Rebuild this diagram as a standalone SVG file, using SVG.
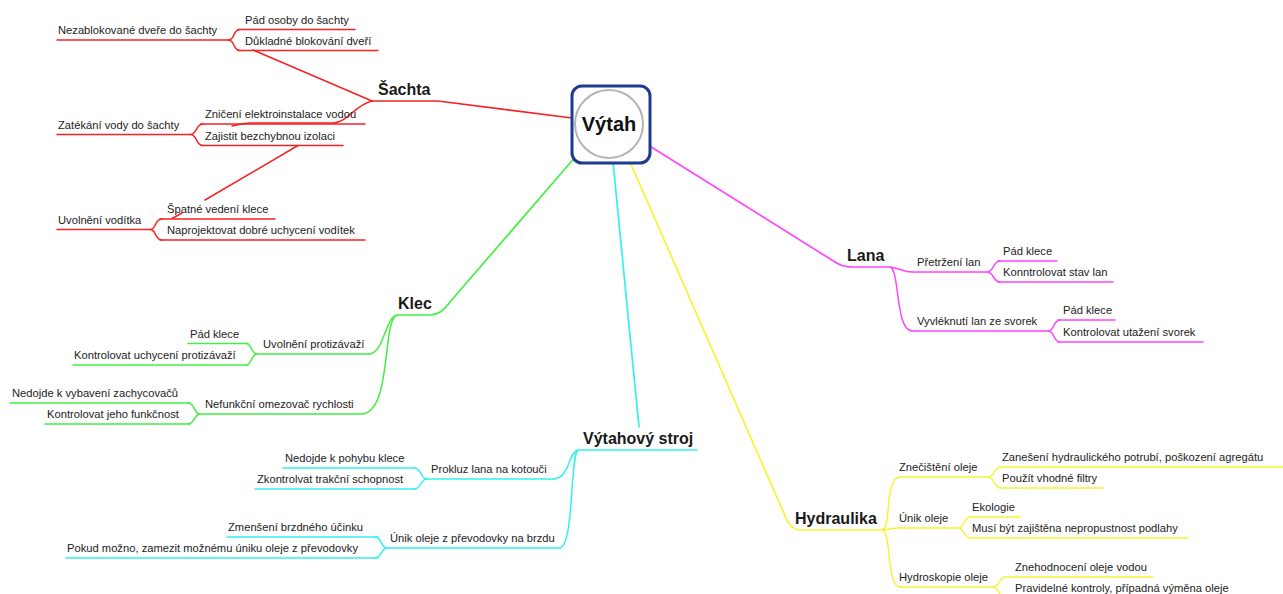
<svg xmlns="http://www.w3.org/2000/svg" width="1283" height="594" viewBox="0 0 1283 594">
<style>
text{font-family:"Liberation Sans",Arial,sans-serif;font-size:11.2px;fill:#222}
.t{font-size:16px;font-weight:bold;fill:#1a1a1a}
path{fill:none;stroke-width:1.5;stroke-linecap:round}
.m{stroke-width:1.7}
.r{stroke:#f52222}.g{stroke:#44ee44}.c{stroke:#33f0f0}.p{stroke:#ff44ff}.y{stroke:#f5f530}
</style>
<rect width="1283" height="594" fill="#fff"/>
<g id="connectors">
<path class="r m" d="M572,118 L438,101 L372,101"/>
<path class="r" d="M372,101 L253,50"/>
<path class="r" d="M228,40 C236,40 232,29.5 240,29.5 M228,40 C236,40 232,50.5 240,50.5"/>
<path class="r" d="M372,101 C355,105 348,122 333,123 L250,123 C242,123 238,125 232,126"/>
<path class="r" d="M190,134.5 C198,134.5 195,124 203,124 M190,134.5 C198,134.5 195,145.5 203,145.5"/>
<path class="r" d="M298,145.5 L205,200 M182,213 L172,218.5"/>
<path class="r" d="M150,229.5 C157,229.5 154,219 162,219 M150,229.5 C157,229.5 154,240 162,240"/>
<path class="g m" d="M583,148 L450,302 Q441,315 430,315 L397,315"/>
<path class="g" d="M397,315 C385,318 384,352 370,354 M397,315 C382,320 392,412 362,414"/>
<path class="g" d="M257,354 C251,354 252,343.5 246,343.5 M257,354 C251,354 252,365 246,365"/>
<path class="g" d="M200,414 C194,414 195,403 188,403 M200,414 C194,414 195,424 188,424"/>
<path class="c m" d="M613,162 L639,427"/>
<path class="c" d="M578,450 C568,452 570,479 553,479 M578,450 C570,455 574,546 560,548"/>
<path class="c" d="M427,479 C420,479 422,468 414,468 M427,479 C420,479 422,489 414,489"/>
<path class="c" d="M387,548 C381,548 382,537 375,537 M387,548 C381,548 382,558 375,558"/>
<path class="p m" d="M640,140 L835,262 Q842,267 852,267 L890,267"/>
<path class="p" d="M890,267 C900,268 903,272 912,272 M890,267 C900,270 895,330 912,331"/>
<path class="p" d="M987,272 C994,272 993,261 1000,261 M987,272 C994,272 993,282 1000,282"/>
<path class="p" d="M1048,331 C1055,331 1053,320 1060,320 M1048,331 C1055,331 1053,342 1060,342"/>
<path class="y m" d="M630,162 L786,518 Q791,530 800,530 L882,530"/>
<path class="y" d="M882,530 C892,528 884,478 900,477 M882,530 C890,530 890,528 898,528 M882,530 C892,532 886,586 900,587"/>
<path class="y" d="M988,477 C995,477 993,467 1001,467 M988,477 C995,477 993,488 1001,488"/>
<path class="y" d="M958,528 C965,528 963,517 971,517 M958,528 C965,528 963,538 971,538"/>
<path class="y" d="M993,587 C1000,587 998,577 1006,577 M993,587 C1000,587 998,598 1006,598"/>
</g>
<g id="vytah">
<rect x="572" y="86" width="78" height="77" rx="10" fill="#fff" stroke="#1f3a93" stroke-width="3"/>
<circle cx="609" cy="124" r="34" fill="#fff" stroke="#b4b4b4" stroke-width="2"/>
<text x="609" y="131" text-anchor="middle" style="font-size:20px;font-weight:bold;fill:#111">Výtah</text>
</g>
<g id="sachta"><text class="t" x="378" y="95">Šachta</text></g>
<g id="nezablokovane"><path class="r" d="M57,40 L228,40"/><text x="58" y="34">Nezablokované dveře do šachty</text></g>
<g id="pad-osoby"><path class="r" d="M238,29.5 L355,29.5"/><text x="245" y="23.5">Pád osoby do šachty</text></g>
<g id="dukladne"><path class="r" d="M238,50.5 L378,50.5"/><text x="245" y="45">Důkladné blokování dveří</text></g>
<g id="zatekani"><path class="r" d="M57,134.5 L190,134.5"/><text x="58" y="129">Zatékání vody do šachty</text></g>
<g id="zniceni"><path class="r" d="M201,124 L365,124"/><text x="205" y="118">Zničení elektroinstalace vodou</text></g>
<g id="zajistit"><path class="r" d="M201,145.5 L343,145.5"/><text x="205" y="139.5">Zajistit bezchybnou izolaci</text></g>
<g id="uvolneni-voditka"><path class="r" d="M57,229.5 L150,229.5"/><text x="58" y="223.5">Uvolnění vodítka</text></g>
<g id="spatne"><path class="r" d="M160,219 L275,219"/><text x="167" y="213">Špatné vedení klece</text></g>
<g id="naprojektovat"><path class="r" d="M160,240 L365,240"/><text x="167" y="234">Naprojektovat dobré uchycení vodítek</text></g>
<g id="klec"><text class="t" x="398" y="309">Klec</text></g>
<g id="protizavazi"><path class="g" d="M257,354 L370,354"/><text x="263" y="348">Uvolnění protizávaží</text></g>
<g id="pad-klece-1"><path class="g" d="M188,343.5 L248,343.5"/><text x="190" y="337.5">Pád klece</text></g>
<g id="kontrolovat-uchyceni"><path class="g" d="M73,365 L248,365"/><text x="74" y="359">Kontrolovat uchycení protizávaží</text></g>
<g id="omezovac"><path class="g" d="M200,414 L362,414"/><text x="205" y="408">Nefunkční omezovač rychlosti</text></g>
<g id="nedojde-zachycovacu"><path class="g" d="M10,403 L190,403"/><text x="12" y="397">Nedojde k vybavení zachycovačů</text></g>
<g id="kontrolovat-funkcnost"><path class="g" d="M45,424 L190,424"/><text x="47" y="418">Kontrolovat jeho funkčnost</text></g>
<g id="vytahovy-stroj"><path class="c m" d="M578,450 L697,450"/><text class="t" x="583" y="444">Výtahový stroj</text></g>
<g id="prokluz"><path class="c" d="M427,479 L553,479"/><text x="431" y="473">Prokluz lana na kotouči</text></g>
<g id="nedojde-pohybu"><path class="c" d="M283,468 L416,468"/><text x="285" y="462">Nedojde k pohybu klece</text></g>
<g id="zkontrolvat"><path class="c" d="M255,489 L416,489"/><text x="257" y="483">Zkontrolvat trakční schopnost</text></g>
<g id="unik-prevodovky"><path class="c" d="M387,548 L560,548"/><text x="390" y="542">Únik oleje z převodovky na brzdu</text></g>
<g id="zmenseni"><path class="c" d="M227,537 L378,537"/><text x="228" y="531">Zmenšení brzdného účinku</text></g>
<g id="pokud"><path class="c" d="M66,558 L378,558"/><text x="67" y="552">Pokud možno, zamezit možnému úniku oleje z převodovky</text></g>
<g id="lana"><text class="t" x="847" y="261">Lana</text></g>
<g id="pretrzeni"><path class="p" d="M912,272 L987,272"/><text x="917" y="266">Přetržení lan</text></g>
<g id="pad-klece-2"><path class="p" d="M998,261 L1057,261"/><text x="1003" y="255">Pád klece</text></g>
<g id="konntrolovat"><path class="p" d="M998,282 L1113,282"/><text x="1003" y="276">Konntrolovat stav lan</text></g>
<g id="vyvleknuti"><path class="p" d="M912,331 L1048,331"/><text x="917" y="325">Vyvléknutí lan ze svorek</text></g>
<g id="pad-klece-3"><path class="p" d="M1058,320 L1115,320"/><text x="1063" y="314">Pád klece</text></g>
<g id="kontrolovat-svorek"><path class="p" d="M1058,342 L1203,342"/><text x="1063" y="335.5">Kontrolovat utažení svorek</text></g>
<g id="hydraulika"><text class="t" x="795" y="524">Hydraulika</text></g>
<g id="znecisteni"><path class="y" d="M900,477 L988,477"/><text x="899" y="471">Znečištění oleje</text></g>
<g id="zaneseni"><path class="y" d="M1000,467 L1283,467"/><text x="1002" y="461">Zanešení hydraulického potrubí, poškození agregátu</text></g>
<g id="pouzit"><path class="y" d="M1000,488 L1103,488"/><text x="1002" y="482">Použít vhodné filtry</text></g>
<g id="unik-oleje"><path class="y" d="M898,528 L958,528"/><text x="899" y="522">Únik oleje</text></g>
<g id="ekologie"><path class="y" d="M970,517 L1020,517"/><text x="972" y="511">Ekologie</text></g>
<g id="musi"><path class="y" d="M970,538 L1188,538"/><text x="972" y="532">Musí být zajištěna nepropustnost podlahy</text></g>
<g id="hydroskopie"><path class="y" d="M900,587 L993,587"/><text x="899" y="581">Hydroskopie oleje</text></g>
<g id="znehodnoceni"><path class="y" d="M1005,577 L1153,577"/><text x="1015" y="571">Znehodnocení oleje vodou</text></g>
<g id="pravidelne"><path class="y" d="M1005,598 L1240,598"/><text x="1015" y="592">Pravidelné kontroly, případná výměna oleje</text></g>
</svg>
